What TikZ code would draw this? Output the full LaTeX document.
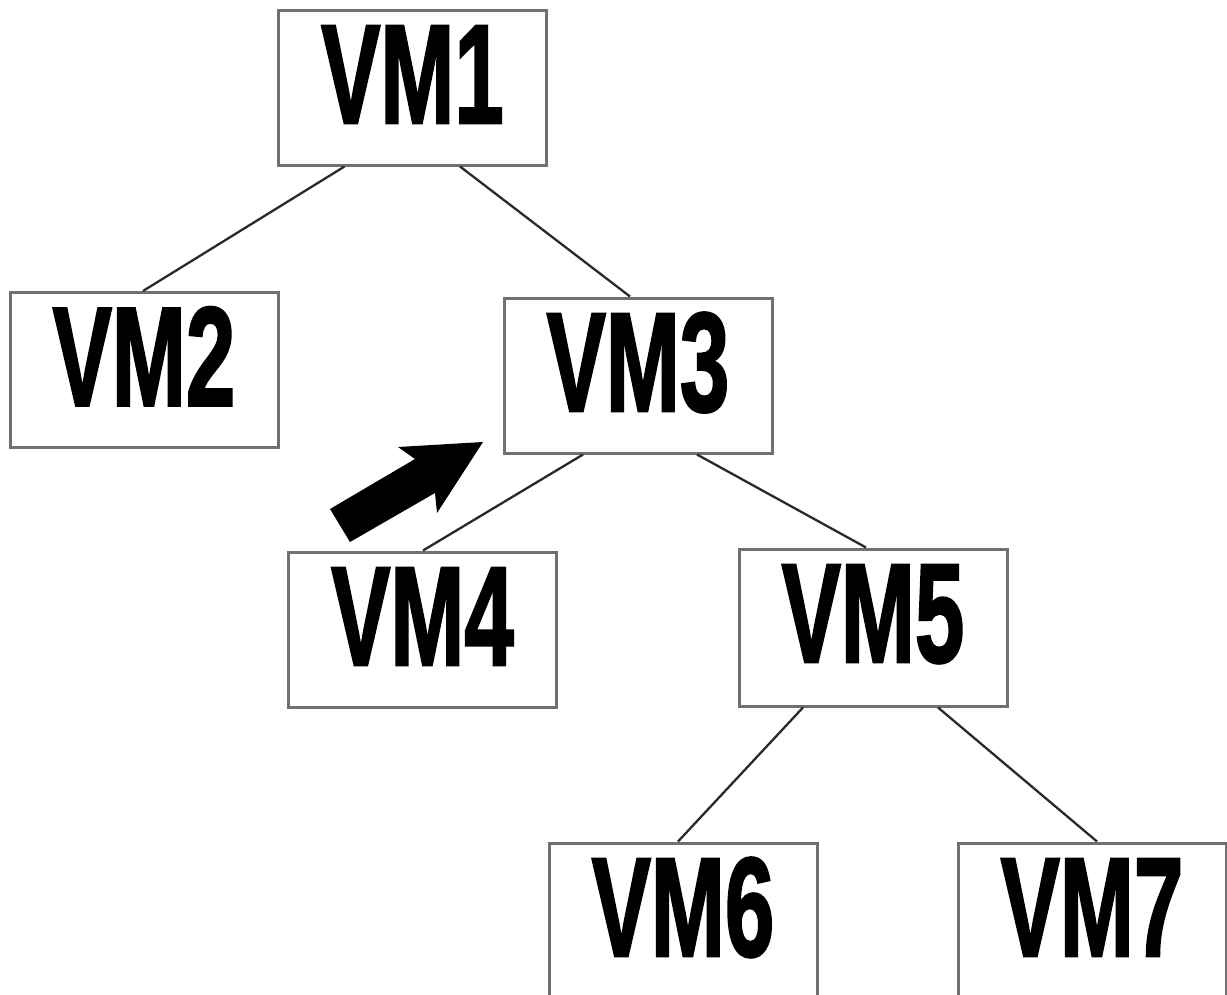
\documentclass[tikz,border=0pt]{standalone}
\usepackage{fontspec}
\usepackage{graphicx}
\usetikzlibrary{calc}
\newfontfamily\vmfont[BoldFeatures={FakeBold=2}]{Liberation Sans}
\newcommand{\vmtext}[1]{\scalebox{0.63}[1]{\vmfont\bfseries\fontsize{141}{141}\selectfont #1}}
\definecolor{boxgray}{HTML}{707070}
\definecolor{linegray}{HTML}{2A2A2A}
\tikzset{
  vmbox/.style={draw=boxgray, line width=3pt, fill=white, rectangle, inner sep=0pt,
    minimum width=268pt, text height=113pt, text depth=42pt, align=center},
  conn/.style={draw=linegray, line width=2.3pt}
}
\begin{document}
\begin{tikzpicture}[x=1pt,y=-1pt]
\useasboundingbox (0,0) rectangle (1227,994);
\clip (0,0) rectangle (1227,994);
\fill[white] (0,0) rectangle (1227,994);
\node[vmbox] (VM1) at (412.5,87.5) {\vmtext{VM1}};
\node[vmbox] (VM2) at (144,370) {\vmtext{VM2}};
\node[vmbox] (VM3) at (638,375.5) {\vmtext{VM3}};
\node[vmbox] (VM4) at (422.5,629.5) {\vmtext{VM4}};
\node[vmbox, text depth=44pt] (VM5) at (873,627.5) {\vmtext{VM5}};
\node[vmbox] (VM6) at (683,920.5) {\vmtext{VM6}};
\node[vmbox] (VM7) at (1092,920.5) {\vmtext{VM7}};
\draw[conn] ($(VM1.south)+(-68,0)$) -- ($(VM2.north)+(-1,0)$);
\draw[conn] ($(VM1.south)+(47.5,0)$) -- ($(VM3.north)+(-8,0)$);
\draw[conn] ($(VM3.south)+(-55,0)$) -- ($(VM4.north)+(0.5,0)$);
\draw[conn] ($(VM3.south)+(59,0)$) -- ($(VM5.north)+(-7,0)$);
\draw[conn] ($(VM5.south)+(-70,0)$) -- ($(VM6.north)+(-5,0)$);
\draw[conn] ($(VM5.south)+(65,0)$) -- ($(VM7.north)+(5,0)$);
\coordinate (tip) at (483,442);
\fill[black] (330,509) -- (415,459) -- (398,447) -- (tip) -- (437,513) -- (435,493) -- (350,542) -- cycle;
\end{tikzpicture}
\end{document}
